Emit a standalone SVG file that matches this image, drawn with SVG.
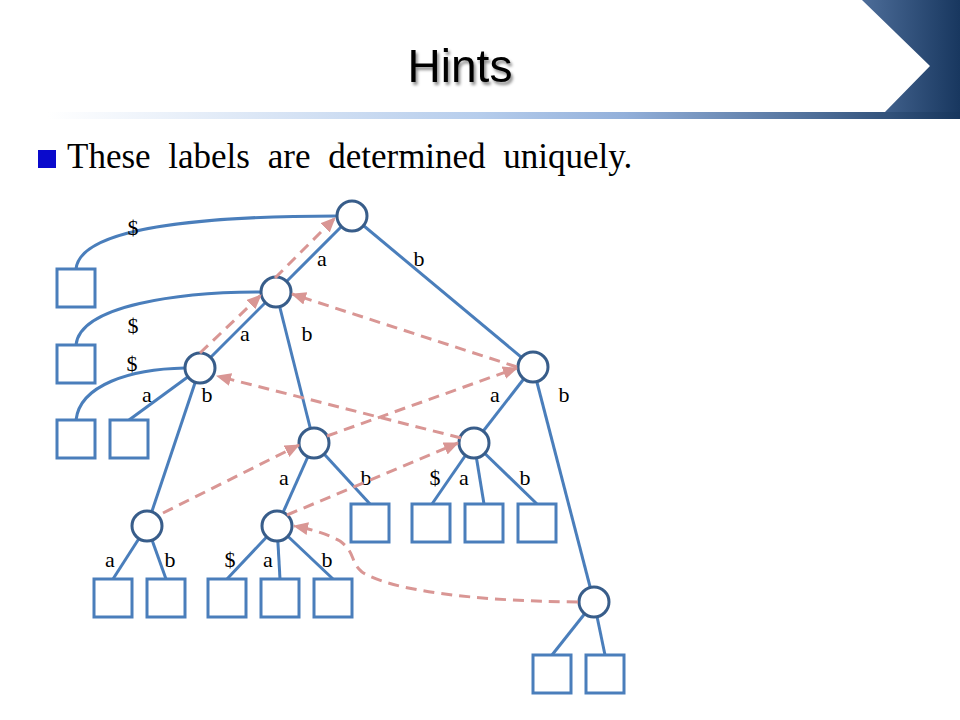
<svg xmlns="http://www.w3.org/2000/svg" width="960" height="720" viewBox="0 0 960 720">
<defs>
<linearGradient id="bar" x1="0" y1="0" x2="1" y2="0">
<stop offset="0" stop-color="#ffffff"/>
<stop offset="0.05" stop-color="#ffffff"/>
<stop offset="0.5" stop-color="#b6cdec"/>
<stop offset="0.65" stop-color="#93b0da"/>
<stop offset="0.85" stop-color="#4e6e98"/>
<stop offset="1" stop-color="#17365d"/>
</linearGradient>
<linearGradient id="corner" x1="0" y1="0" x2="1" y2="0">
<stop offset="0" stop-color="#4d6d99"/>
<stop offset="1" stop-color="#18375f"/>
</linearGradient>
<filter id="shadow" x="-10%" y="-20%" width="130%" height="150%">
<feDropShadow dx="2" dy="3" stdDeviation="1.5" flood-color="#000" flood-opacity="0.45"/>
</filter>
<marker id="arr" markerUnits="userSpaceOnUse" markerWidth="16" markerHeight="14" refX="14" refY="6.5" orient="auto">
<path d="M0,0 L15,6.5 L0,13 z" fill="#d99694"/>
</marker>
<style>
.edge{fill:none;stroke:#4a7ebb;stroke-width:3}
.inner circle{fill:#fff;stroke:#385d8a;stroke-width:3}
.leaf rect{fill:#fff;stroke:#4a7ebb;stroke-width:3}
.hint{fill:none;stroke:#d99694;stroke-width:3;stroke-dasharray:11 7;marker-end:url(#arr)}
.lbl{font-family:"Liberation Serif","Times New Roman",serif;font-size:22px;fill:#000;text-anchor:middle}
</style>
</defs>
<rect width="960" height="720" fill="#fff"/>
<g id="header">
<polygon points="862,0 960,0 960,112 885,112 930,66" fill="url(#corner)"/>
<rect x="0" y="112" width="960" height="7" fill="url(#bar)"/>
<text x="460" y="82" font-family="'Liberation Sans',Arial,sans-serif" font-size="46" text-anchor="middle" fill="#000" filter="url(#shadow)">Hints</text>
</g>
<g id="bullet">
<rect x="38" y="150" width="18" height="18" fill="#0a0acc"/>
<text x="67" y="168" font-family="'Liberation Serif','Times New Roman',serif" font-size="35" word-spacing="9" fill="#000">These labels are determined uniquely.</text>
</g>
<g id="tree-edges">
<path class="edge" d="M76,269 C80,228 200,216 337,216"/>
<path class="edge" d="M76,345 C80,305 180,292 261,292"/>
<path class="edge" d="M76,420 C80,385 130,369 185,368"/>
<line class="edge" x1="352" y1="216" x2="276" y2="292"/>
<line class="edge" x1="352" y1="216" x2="533" y2="367"/>
<line class="edge" x1="276" y1="292" x2="200" y2="368"/>
<line class="edge" x1="276" y1="292" x2="314" y2="443"/>
<line class="edge" x1="200" y1="368" x2="129" y2="420"/>
<line class="edge" x1="200" y1="368" x2="147" y2="526"/>
<line class="edge" x1="533" y1="367" x2="474" y2="443"/>
<line class="edge" x1="533" y1="367" x2="594" y2="602"/>
<line class="edge" x1="314" y1="443" x2="277" y2="526"/>
<line class="edge" x1="314" y1="443" x2="370" y2="504"/>
<line class="edge" x1="474" y1="443" x2="432" y2="504"/>
<line class="edge" x1="474" y1="443" x2="484" y2="504"/>
<line class="edge" x1="474" y1="443" x2="537" y2="504"/>
<line class="edge" x1="147" y1="526" x2="113" y2="579"/>
<line class="edge" x1="147" y1="526" x2="166" y2="579"/>
<line class="edge" x1="277" y1="526" x2="227" y2="579"/>
<line class="edge" x1="277" y1="526" x2="280" y2="579"/>
<line class="edge" x1="277" y1="526" x2="333" y2="579"/>
<line class="edge" x1="594" y1="602" x2="552" y2="655"/>
<line class="edge" x1="594" y1="602" x2="605" y2="655"/>
</g>
<g id="edge-labels">
<text class="lbl" x="133" y="235">$</text>
<text class="lbl" x="322" y="266">a</text>
<text class="lbl" x="419" y="266">b</text>
<text class="lbl" x="133" y="333">$</text>
<text class="lbl" x="245" y="341">a</text>
<text class="lbl" x="307" y="341">b</text>
<text class="lbl" x="132" y="371">$</text>
<text class="lbl" x="147" y="402">a</text>
<text class="lbl" x="207" y="402">b</text>
<text class="lbl" x="495" y="402">a</text>
<text class="lbl" x="564" y="402">b</text>
<text class="lbl" x="284" y="485">a</text>
<text class="lbl" x="366" y="485">b</text>
<text class="lbl" x="435" y="485">$</text>
<text class="lbl" x="464" y="485">a</text>
<text class="lbl" x="525" y="485">b</text>
<text class="lbl" x="110" y="567">a</text>
<text class="lbl" x="170" y="567">b</text>
<text class="lbl" x="230" y="567">$</text>
<text class="lbl" x="268" y="567">a</text>
<text class="lbl" x="327" y="567">b</text>
</g>
<g id="n-root" class="inner"><circle cx="352" cy="216" r="15"/></g>
<g id="n-a" class="inner"><circle cx="276" cy="292" r="15"/></g>
<g id="n-aa" class="inner"><circle cx="200" cy="368" r="15"/></g>
<g id="n-b" class="inner"><circle cx="533" cy="367" r="15"/></g>
<g id="n-ab" class="inner"><circle cx="314" cy="443" r="15"/></g>
<g id="n-ba" class="inner"><circle cx="474" cy="443" r="15"/></g>
<g id="n-aab" class="inner"><circle cx="147" cy="526" r="15"/></g>
<g id="n-aba" class="inner"><circle cx="277" cy="526" r="15"/></g>
<g id="n-bb" class="inner"><circle cx="594" cy="602" r="15"/></g>
<g id="l1" class="leaf"><rect x="57" y="269" width="38" height="38"/></g>
<g id="l2" class="leaf"><rect x="57" y="345" width="38" height="38"/></g>
<g id="l3" class="leaf"><rect x="57" y="420" width="38" height="38"/></g>
<g id="l4" class="leaf"><rect x="110" y="420" width="38" height="38"/></g>
<g id="l5" class="leaf"><rect x="351" y="504" width="38" height="38"/></g>
<g id="l6" class="leaf"><rect x="412" y="504" width="38" height="38"/></g>
<g id="l7" class="leaf"><rect x="465" y="504" width="38" height="38"/></g>
<g id="l8" class="leaf"><rect x="518" y="504" width="38" height="38"/></g>
<g id="l9" class="leaf"><rect x="94" y="579" width="38" height="38"/></g>
<g id="l10" class="leaf"><rect x="147" y="579" width="38" height="38"/></g>
<g id="l11" class="leaf"><rect x="208" y="579" width="38" height="38"/></g>
<g id="l12" class="leaf"><rect x="261" y="579" width="38" height="38"/></g>
<g id="l13" class="leaf"><rect x="314" y="579" width="38" height="38"/></g>
<g id="l14" class="leaf"><rect x="533" y="655" width="38" height="38"/></g>
<g id="l15" class="leaf"><rect x="586" y="655" width="38" height="38"/></g>
<g id="hint-arrows">
<path class="hint" d="M200,353 L261,295"/>
<path class="hint" d="M275,278 L335,218"/>
<path class="hint" d="M517,367 L292,294"/>
<path class="hint" d="M461,438 L217,376"/>
<path class="hint" d="M327,436 L517,368"/>
<path class="hint" d="M163,513 L299,445"/>
<path class="hint" d="M287,515 L458,443"/>
<path class="hint" d="M578,602 C470,601 390,590 362,572 C350,562 356,553 340,541 C325,533 310,529 294,526"/>
</g>
</svg>
